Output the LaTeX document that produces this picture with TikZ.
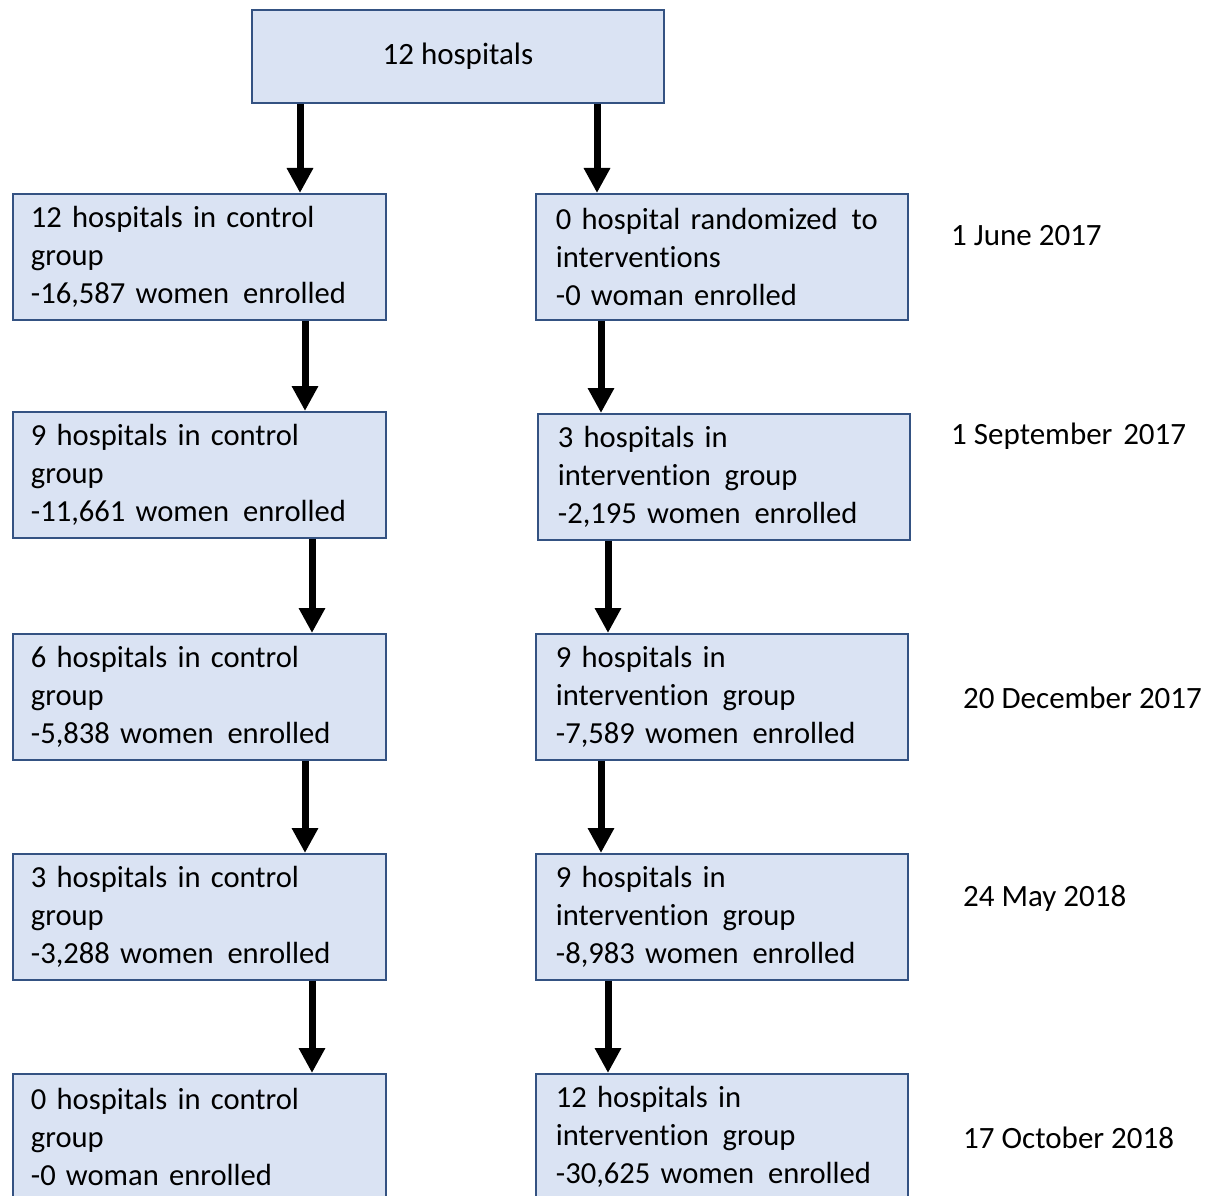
\documentclass[tikz,border=0pt]{standalone}
\usepackage{fontspec}
\setmainfont[Ligatures=NoCommon]{Carlito}
\usetikzlibrary{arrows.meta}
\definecolor{boxfill}{RGB}{218,227,243}
\definecolor{boxline}{RGB}{52,82,130}
\newcommand{\wsp}{~\hspace{0.12em}}
\tikzset{
  box/.style={draw=boxline, fill=boxfill, line width=1.8pt, rectangle, anchor=north west,
    minimum height=126pt, inner ysep=0pt, align=left,
    font=\fontsize{30.6}{38}\selectfont},
  lbox/.style={box, inner xsep=18pt, text width=337pt},
  rbox/.style={box, inner xsep=20pt, text width=332pt},
  datelbl/.style={anchor=west, inner sep=0pt, font=\fontsize{31}{38}\selectfont},
  arr/.style={line width=7pt, -{Triangle[width=25pt,length=25pt]}}
}
\begin{document}
\begin{tikzpicture}[x=1pt,y=1pt]
\useasboundingbox (0,0) rectangle (1224,-1196);
\clip (0,0) rectangle (1224,-1196);
\fill[white] (0,0) rectangle (1224,-1196);

\node[draw=boxline, fill=boxfill, line width=1.8pt, anchor=north west, minimum width=412pt, minimum height=93pt,
  font=\fontsize{31}{38}\selectfont] (top) at (251,-9) {12 hospitals};

\node[lbox] (l1) at (12,-193) {12~hospitals~in~control\\group\\-16,587~women\wsp enrolled};
\node[rbox] (r1) at (535,-193) {0~hospital~randomized\wsp to\\interventions\\-0~woman~enrolled};
\node[lbox] (l2) at (12,-411) {9~hospitals~in~control\\group\\-11,661~women\wsp enrolled};
\node[rbox] (r2) at (537,-413) {3~hospitals~in\\intervention\wsp group\\-2,195~women\wsp enrolled};
\node[lbox] (l3) at (12,-633) {6~hospitals~in~control\\group\\-5,838~women\wsp enrolled};
\node[rbox] (r3) at (535,-633) {9~hospitals~in\\intervention\wsp group\\-7,589~women\wsp enrolled};
\node[lbox] (l4) at (12,-853) {3~hospitals~in~control\\group\\-3,288~women\wsp enrolled};
\node[rbox] (r4) at (535,-853) {9~hospitals~in\\intervention\wsp group\\-8,983~women\wsp enrolled};
\node[lbox] (l5) at (12,-1073) {0~hospitals~in~control\\group\\-0~woman~enrolled};
\node[rbox] (r5) at (535,-1073) {12~hospitals~in\\intervention\wsp group\\-30,625~women\wsp enrolled};

\node[datelbl] (d1) at (951,-236) {1 June 2017};
\node[datelbl] (d2) at (951,-436) {1 September\wsp 2017};
\node[datelbl] (d3) at (963,-698) {20 December 2017};
\node[datelbl] (d4) at (963,-898) {24 May 2018};
\node[datelbl] (d5) at (963,-1138) {17 October 2018};

\coordinate (cA) at (300,0);
\coordinate (cB) at (597,0);
\coordinate (cC) at (305,0);
\coordinate (cD) at (601,0);
\coordinate (cE) at (312,0);
\coordinate (cF) at (608,0);

\draw[arr] (top.south -| cA) -- (l1.north -| cA);
\draw[arr] (top.south -| cB) -- (r1.north -| cB);
\draw[arr] (l1.south -| cC) -- (l2.north -| cC);
\draw[arr] (r1.south -| cD) -- (r2.north -| cD);
\draw[arr] (l2.south -| cE) -- (l3.north -| cE);
\draw[arr] (r2.south -| cF) -- (r3.north -| cF);
\draw[arr] (l3.south -| cC) -- (l4.north -| cC);
\draw[arr] (r3.south -| cD) -- (r4.north -| cD);
\draw[arr] (l4.south -| cE) -- (l5.north -| cE);
\draw[arr] (r4.south -| cF) -- (r5.north -| cF);
\end{tikzpicture}
\end{document}
